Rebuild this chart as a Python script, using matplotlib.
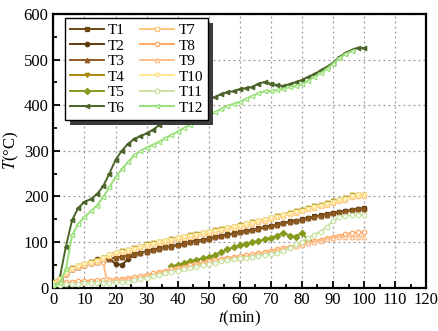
import numpy as np
import matplotlib
matplotlib.use("Agg")
import matplotlib.pyplot as plt
from matplotlib.patches import Rectangle
from matplotlib.ticker import MultipleLocator

plt.rcParams['font.family'] = ['Liberation Serif', 'DejaVu Serif']
plt.rcParams['mathtext.fontset'] = 'stix'

nan = np.nan
t = list(range(0, 101, 2))

T1 = [10, 18, 30, 40, 46, 50, 54, 57, 61, 64, 66, 68, 70, 74, 77, 80, 83, 86, 89, 91,
      94, 97, 100, 103, 105, 108, 111, 114, 117, 119, 122, 125, 127, 130, 133, 136, 139,
      142, 145, 147, 150, 153, 156, 159, 161, 164, 166, 168, 171, 173, 174]
T2 = [10, 18, 30, 40, 46, 50, 54, 62, 64, 63, 52, 50, 62, 72, 76, 79, 82, 85, 88, 90,
      93, 96, 99, 102, 104, 107, 110, 113, 116, 118, 121, 124, 126, 129, 132, 135, 138,
      141, 144, 146, 149, 152, 155, 158, 160, 163, 165, 167, 170, 172, 173]
T3 = [10, 18, 30, 40, 46, 50, 54, 57, 60, 63, 65, 67, 70, 73, 76, 79, 82, 85, 88, 90,
      93, 96, 99, 101, 104, 107, 110, 113, 115, 118, 121, 124, 126, 129, 132, 135, 138,
      141, 143, 146, 149, 152, 155, 157, 160, 163, 165, 167, 170, 172, 173]
T4 = [12, 20, 32, 42, 48, 52, 56, 60, 65, 72, 77, 80, 83, 86, 90, 95, 98, 100, 103, 106,
      109, 112, 115, 117, 120, 123, 126, 129, 131, 134, 137, 140, 143, 146, 149, 153, 157,
      160, 164, 167, 171, 175, 178, 182, 185, 189, 192, 196, 202, 204, 204]
T5 = [nan] * 19 + [47, 50, 54, 58, 61, 64, 67, 72, 78, 84, 88, 93, 96, 99, 102, 106, 109,
                   114, 120, 114, 112, 120, 104] + [nan] * 9
T6 = [5, 20, 90, 148, 175, 188, 194, 205, 222, 250, 280, 300, 315, 326, 332, 338, 346,
      356, 366, 374, 381, 388, 395, 402, 408, 413, 418, 424, 428, 431, 435, 437, 440, 447,
      451, 447, 444, 442, 446, 450, 455, 462, 468, 476, 484, 493, 505, 514, 521, 526, 525]
T7 = [10, 18, 30, 40, 46, 50, 54, 58, 63, 70, 75, 78, 81, 84, 88, 92, 95, 97, 100, 103,
      106, 109, 112, 114, 117, 120, 123, 126, 128, 131, 134, 137, 140, 143, 146, 150, 154,
      157, 161, 164, 168, 172, 175, 179, 182, 186, 189, 193, 199, 201, 201]
T8 = [8, 10, 12, 13, 14, 15, 15, 16, 16, 17, 18, 19, 21, 23, 25, 28, 31, 34, 37, 40,
      43, 46, 49, 52, 55, 58, 60, 63, 65, 67, 69, 71, 73, 75, 78, 81, 84, 87, 90, 93,
      96, 99, 102, 105, 108, 111, 114, 117, 120, 121, 121]
T10 = [11, 19, 31, 41, 47, 51, 55, 59, 64, 71, 76, 79, 82, 85, 89, 93, 96, 99, 102, 105,
       108, 111, 113, 116, 119, 122, 125, 127, 130, 133, 136, 139, 142, 145, 148, 152, 155,
       159, 162, 166, 169, 173, 177, 180, 184, 187, 191, 194, 200, 202, 202]
T11 = [5, 6, 7, 8, 9, 10, 10, 11, 11, 11, 12, 12, 13, 16, 19, 22, 25, 28, 31, 34,
       37, 40, 43, 46, 49, 52, 55, 58, 60, 62, 64, 66, 68, 70, 72, 74, 77, 80, 86, 95,
       101, 109, 116, 123, 133, 146, 154, 158, 159, 160, 160]
T12 = [5, 10, 40, 115, 140, 155, 167, 180, 198, 220, 242, 260, 275, 290, 300, 307, 313,
       320, 327, 335, 342, 350, 357, 364, 370, 376, 384, 392, 398, 403, 407, 414, 420, 426,
       430, 431, 433, 436, 439, 442, 446, 454, 462, 470, 480, 491, 503, 512, 518, nan, nan]

# T9 drops from the upper group to the lower one at 17 min
t9 = [0, 2, 4, 6, 8, 10, 12, 14, 16, 17] + list(range(18, 101, 2))
T9 = [10, 16, 30, 40, 46, 50, 53, 56, 57, 22, 20, 17, 17, 18, 20, 22, 25, 28, 31, 34,
      37, 40, 43, 46, 49, 52, 55, 57, 60, 62, 64, 66, 68, 70, 73, 76, 79, 82, 85, 88,
      91, 94, 97, 100, 103, 106, 109, 111, 112, 112, 112, 112]

series = [
    ("T1", t, T1, "#6b4712", "s", True),
    ("T2", t, T2, "#5e3a10", "o", True),
    ("T3", t, T3, "#8e5a22", "^", True),
    ("T4", t, T4, "#a88a0a", "v", True),
    ("T5", t, T5, "#879a1e", "D", True),
    ("T6", t, T6, "#4a6429", "<", True),
    ("T7", t, T7, "#ffc47e", "s", False),
    ("T8", t, T8, "#ffa865", "o", False),
    ("T9", t9, T9, "#ffbf8c", "^", False),
    ("T10", t, T10, "#ffe592", "v", False),
    ("T11", t, T11, "#c9e3a3", "o", False),
    ("T12", t, T12, "#98e078", "<", False),
]

fig = plt.figure(figsize=(4.38, 3.31), dpi=100)
ax = fig.add_axes([0.122, 0.131, 0.851, 0.827])

for name, x, y, c, m, filled in series:
    ax.plot(x, y, color=c, lw=1.4, marker=m, ms=3.2, mew=0.9,
            mfc=c if filled else "white", mec=c, label=name, zorder=3)

ax.set_xlim(0, 120)
ax.set_ylim(0, 600)
ax.xaxis.set_major_locator(MultipleLocator(10))
ax.xaxis.set_minor_locator(MultipleLocator(5))
ax.yaxis.set_major_locator(MultipleLocator(100))
ax.yaxis.set_minor_locator(MultipleLocator(50))
ax.tick_params(which="both", direction="in", top=False, right=False, labelsize=12, width=1.3)
ax.tick_params(which="major", length=5)
ax.tick_params(which="minor", length=3)
ax.tick_params(axis="x", pad=3)
for s in ax.spines.values():
    s.set_linewidth(1.6)
ax.grid(True, which="major", color="#999999", ls=(0, (1.5, 2.5)), lw=0.9)
ax.set_axisbelow(True)

ax.set_xlabel("$t$(min)", fontsize=12, labelpad=0.5)
ax.set_ylabel("$T$(°C)", fontsize=12, labelpad=2)

leg = ax.legend(ncol=2, loc="upper left", bbox_to_anchor=(0.03, 0.985), fontsize=11,
                frameon=True, fancybox=False, edgecolor="black", framealpha=1,
                handlelength=2.2, handletextpad=0.3, labelspacing=0.12,
                columnspacing=1.0, borderpad=0.35, borderaxespad=0.0)
leg.get_frame().set_linewidth(1.0)
leg.set_zorder(10)

# dark offset box behind the legend
fig.canvas.draw()
bb = leg.get_window_extent()
sh = Rectangle((bb.x0 + 5, bb.y0 - 5), bb.width, bb.height, transform=None,
               facecolor="#3c3c3c", edgecolor="none", zorder=9)
ax.add_artist(sh)

fig.savefig("out.png", dpi=100)
